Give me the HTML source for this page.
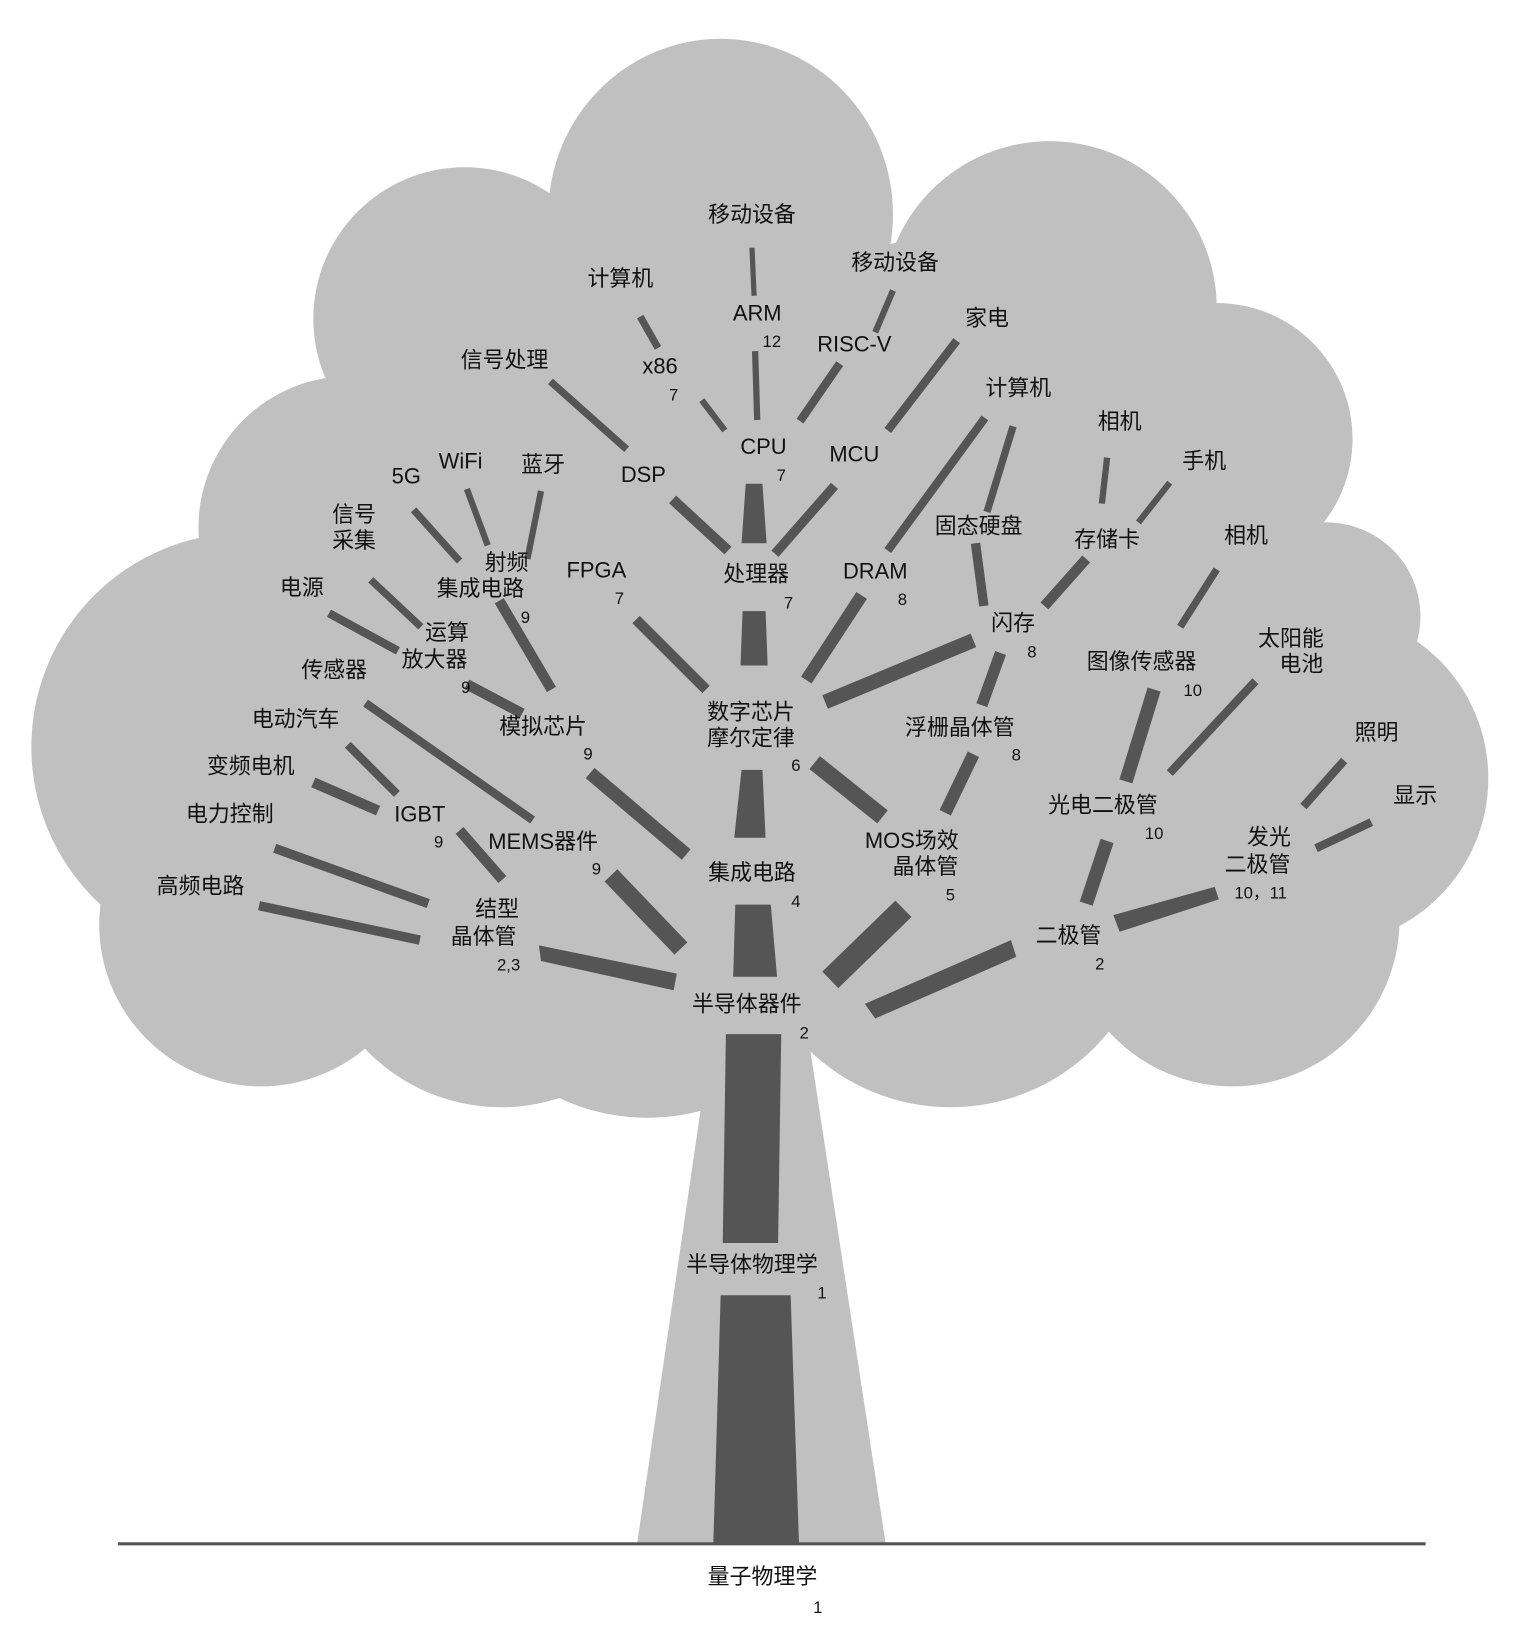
<!DOCTYPE html>
<html><head><meta charset="utf-8"><style>
html,body{margin:0;padding:0;background:#fff}
svg{display:block}
text{font-family:"Liberation Sans","Noto Sans CJK SC",sans-serif;fill:#111;text-anchor:middle;dominant-baseline:middle}
.n{font-size:16px}
.t{font-size:21px}
</style></head><body>
<svg width="1528" height="1638" viewBox="0 0 1463 1568" xmlns="http://www.w3.org/2000/svg">
<g fill="#c0c0c0">
<ellipse cx="690" cy="205" rx="165" ry="168"/>
<circle cx="445" cy="305" r="145"/>
<circle cx="335" cy="505" r="145"/>
<circle cx="235" cy="715" r="205"/>
<circle cx="250" cy="885" r="155"/>
<circle cx="480" cy="880" r="180"/>
<circle cx="620" cy="870" r="200"/>
<circle cx="1005" cy="295" r="160"/>
<circle cx="880" cy="340" r="110"/>
<circle cx="1165" cy="420" r="130"/>
<circle cx="1270" cy="590" r="90"/>
<circle cx="1265" cy="745" r="160"/>
<circle cx="1180" cy="880" r="160"/>
<circle cx="910" cy="865" r="195"/>
<ellipse cx="740" cy="620" rx="520" ry="340"/>
<polygon points="680,1000 775,1000 848,1478 610,1478"/>
</g>
<line x1="113" y1="1478" x2="1365" y2="1478" stroke="#555" stroke-width="3"/>
<g fill="#555">
<polygon points="695,990 748,990 745,1190 692,1190"/>
<polygon points="690,1240 757,1240 765,1478 683,1478"/>
<polygon points="714,463 730,463 734,520 710,520"/>
<polygon points="711,585 733,585 735,637 709,637"/>
<polygon points="710,737 730,737 733,802 703,802"/>
<polygon points="704,866 738,866 744,935 702,935"/>
<polygon points="516,905 518,920 645,948 648,932"/>
<polygon points="968,900 973,916 838,975 828,961"/>
<polygon points="1163,849 1167,861 1072,892 1066,876"/>
</g>
<g stroke="#555" fill="none" stroke-linecap="butt">
<line x1="720" y1="237" x2="722" y2="283" stroke-width="5"/>
<line x1="613" y1="303" x2="630" y2="333" stroke-width="7"/>
<line x1="855" y1="278" x2="838" y2="318" stroke-width="6"/>
<line x1="672" y1="383" x2="694" y2="412" stroke-width="6"/>
<line x1="723" y1="336" x2="725" y2="402" stroke-width="6"/>
<line x1="804" y1="348" x2="766" y2="403" stroke-width="8"/>
<line x1="916" y1="326" x2="850" y2="412" stroke-width="8"/>
<line x1="527" y1="365" x2="600" y2="430" stroke-width="7"/>
<line x1="799" y1="465" x2="742" y2="530" stroke-width="9"/>
<line x1="644" y1="478" x2="697" y2="527" stroke-width="10"/>
<line x1="943" y1="400" x2="850" y2="527" stroke-width="8"/>
<line x1="970" y1="408" x2="945" y2="490" stroke-width="7"/>
<line x1="1060" y1="438" x2="1055" y2="482" stroke-width="6"/>
<line x1="1120" y1="462" x2="1090" y2="500" stroke-width="6"/>
<line x1="396" y1="488" x2="440" y2="537" stroke-width="7"/>
<line x1="447" y1="468" x2="467" y2="522" stroke-width="6"/>
<line x1="518" y1="470" x2="505" y2="535" stroke-width="6"/>
<line x1="355" y1="555" x2="403" y2="600" stroke-width="7"/>
<line x1="315" y1="587" x2="381" y2="623" stroke-width="8"/>
<line x1="609" y1="593" x2="676" y2="660" stroke-width="10"/>
<line x1="825" y1="570" x2="772" y2="651" stroke-width="12"/>
<line x1="1040" y1="535" x2="1000" y2="580" stroke-width="10"/>
<line x1="934" y1="520" x2="942" y2="580" stroke-width="9"/>
<line x1="932" y1="613" x2="790" y2="672" stroke-width="14"/>
<line x1="447" y1="655" x2="500" y2="683" stroke-width="10"/>
<line x1="478" y1="575" x2="528" y2="660" stroke-width="10"/>
<line x1="958" y1="625" x2="940" y2="675" stroke-width="11"/>
<line x1="1165" y1="545" x2="1130" y2="600" stroke-width="7"/>
<line x1="350" y1="673" x2="510" y2="785" stroke-width="8"/>
<line x1="333" y1="713" x2="380" y2="760" stroke-width="8"/>
<line x1="300" y1="749" x2="362" y2="776" stroke-width="10"/>
<line x1="780" y1="730" x2="845" y2="782" stroke-width="16"/>
<line x1="565" y1="740" x2="657" y2="818" stroke-width="13"/>
<line x1="932" y1="722" x2="905" y2="778" stroke-width="12"/>
<line x1="1105" y1="660" x2="1078" y2="748" stroke-width="13"/>
<line x1="1202" y1="652" x2="1120" y2="740" stroke-width="8"/>
<line x1="1287" y1="728" x2="1248" y2="772" stroke-width="8"/>
<line x1="1313" y1="787" x2="1260" y2="812" stroke-width="8"/>
<line x1="1060" y1="805" x2="1040" y2="865" stroke-width="13"/>
<line x1="440" y1="795" x2="481" y2="842" stroke-width="10"/>
<line x1="263" y1="812" x2="410" y2="865" stroke-width="9"/>
<line x1="248" y1="867" x2="402" y2="900" stroke-width="9"/>
<line x1="585" y1="838" x2="652" y2="908" stroke-width="17"/>
<line x1="865" y1="870" x2="795" y2="938" stroke-width="22"/>
</g>
<g class="t">
<text x="720" y="207">移动设备</text>
<text x="594" y="268">计算机</text>
<text x="857" y="253">移动设备</text>
<text x="725" y="301">ARM</text>
<text x="945" y="306">家电</text>
<text x="818" y="331">RISC-V</text>
<text x="483" y="346">信号处理</text>
<text x="632" y="352">x86</text>
<text x="975" y="373">计算机</text>
<text x="1072" y="405">相机</text>
<text x="731" y="429">CPU</text>
<text x="818" y="436">MCU</text>
<text x="1153" y="443">手机</text>
<text x="389" y="457">5G</text>
<text x="441" y="443">WiFi</text>
<text x="520" y="446">蓝牙</text>
<text x="616" y="456">DSP</text>
<text x="339" y="494">信号</text>
<text x="339" y="519">采集</text>
<text x="937" y="505">固态硬盘</text>
<text x="1060" y="518">存储卡</text>
<text x="1193" y="514">相机</text>
<text x="485" y="540">射频</text>
<text x="460" y="565">集成电路</text>
<text x="571" y="547">FPGA</text>
<text x="724" y="551">处理器</text>
<text x="838" y="548">DRAM</text>
<text x="289" y="564">电源</text>
<text x="428" y="607">运算</text>
<text x="416" y="633">放大器</text>
<text x="970" y="598">闪存</text>
<text x="1236" y="613">太阳能</text>
<text x="1246" y="637">电池</text>
<text x="1093" y="635">图像传感器</text>
<text x="320" y="643">传感器</text>
<text x="719" y="683">数字芯片</text>
<text x="719" y="708">摩尔定律</text>
<text x="520" y="697">模拟芯片</text>
<text x="919" y="698">浮栅晶体管</text>
<text x="283" y="690">电动汽车</text>
<text x="1318" y="703">照明</text>
<text x="240" y="735">变频电机</text>
<text x="1355" y="763">显示</text>
<text x="1056" y="772">光电二极管</text>
<text x="402" y="781">IGBT</text>
<text x="220" y="781">电力控制</text>
<text x="520" y="807">MEMS器件</text>
<text x="1215" y="803">发光</text>
<text x="1204" y="829">二极管</text>
<text x="873" y="806">MOS场效</text>
<text x="886" y="831">晶体管</text>
<text x="720" y="837">集成电路</text>
<text x="192" y="850">高频电路</text>
<text x="476" y="872">结型</text>
<text x="463" y="898">晶体管</text>
<text x="1023" y="897">二极管</text>
<text x="715" y="963">半导体器件</text>
<text x="720" y="1212">半导体物理学</text>
<text x="730" y="1511">量子物理学</text>
</g>
<g class="n">
<text x="739" y="328">12</text>
<text x="645" y="379">7</text>
<text x="748" y="456">7</text>
<text x="503" y="592">9</text>
<text x="593" y="574">7</text>
<text x="755" y="578">7</text>
<text x="864" y="575">8</text>
<text x="446" y="659">9</text>
<text x="988" y="625">8</text>
<text x="1142" y="662">10</text>
<text x="762" y="734">6</text>
<text x="563" y="723">9</text>
<text x="973" y="724">8</text>
<text x="1105" y="799">10</text>
<text x="420" y="807">9</text>
<text x="571" y="833">9</text>
<text x="1207" y="856">10，11</text>
<text x="910" y="858">5</text>
<text x="762" y="864">4</text>
<text x="487" y="925">2,3</text>
<text x="1053" y="924">2</text>
<text x="770" y="990">2</text>
<text x="787" y="1239">1</text>
<text x="783" y="1540">1</text>
</g>
</svg>
</body></html>
